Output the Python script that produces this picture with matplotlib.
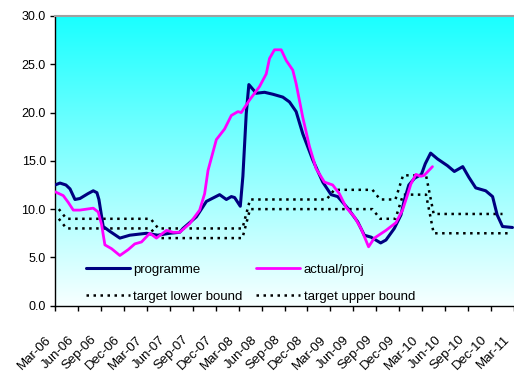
import numpy as np
import matplotlib
matplotlib.use("Agg")
import matplotlib.pyplot as plt
from matplotlib.transforms import ScaledTranslation

plt.rcParams["font.family"] = ["Liberation Sans", "DejaVu Sans"]

# Quarterly tick labels (months counted from Mar-06)
tick_labels = ["Mar-06", "Jun-06", "Sep-06", "Dec-06", "Mar-07", "Jun-07", "Sep-07",
               "Dec-07", "Mar-08", "Jun-08", "Sep-08", "Dec-08", "Mar-09", "Jun-09",
               "Sep-09", "Dec-09", "Mar-10", "Jun-10", "Sep-10", "Dec-10", "Mar-11"]

# Programme path (month offset, %)
prog_month = [0.0, 0.65, 1.43, 1.96, 2.61, 3.26, 4.30, 5.0, 5.48, 5.74, 6.30, 7.17,
              8.48, 9.78, 11.96, 13.43, 15.0, 16.30, 16.73, 18.48, 19.79, 21.52,
              22.40, 23.05, 23.48, 24.22, 24.56, 25.0, 25.34, 26.31, 27.39, 28.47,
              29.78, 30.65, 31.52, 32.39, 33.69, 35.0, 36.09, 36.95, 38.26, 39.56,
              40.43, 41.31, 42.57, 43.26, 44.35, 45.22, 45.65, 46.25, 47.0, 47.9,
              48.4, 49.1, 50.0, 51.3, 52.2, 53.3, 54.1, 55.0, 56.3, 57.2, 57.8,
              58.5, 59.8]
prog_value = [12.5, 12.7, 12.5, 12.1, 11.0, 11.1, 11.6, 11.9, 11.7, 11.0, 8.2, 7.7,
              7.0, 7.3, 7.5, 7.3, 7.5, 7.6, 8.0, 9.2, 10.8, 11.5,
              11.0, 11.3, 11.2, 10.3, 13.4, 19.9, 22.9, 22.0, 22.1, 21.9,
              21.6, 21.1, 20.1, 17.8, 15.1, 12.8, 11.5, 11.3, 10.1, 8.7,
              7.3, 7.1, 6.5, 6.8, 8.0, 9.4, 10.9, 12.5, 13.2, 13.6,
              14.7, 15.8, 15.2, 14.5, 13.9, 14.4, 13.3, 12.2, 11.9, 11.3, 9.4,
              8.2, 8.1]

# Actual / projected path (month offset, %)
act_month = [0.0, 1.08, 1.73, 2.39, 3.26, 5.0, 5.65, 6.09, 6.52, 7.40, 8.48, 9.56,
             10.43, 11.31, 12.39, 13.26, 14.57, 15.43, 16.30, 17.61, 18.91, 19.56,
             20.0, 21.09, 22.17, 23.05, 23.91, 24.35, 25.43, 26.74, 27.61, 28.04,
             28.69, 29.57, 30.22, 31.08, 31.52, 32.39, 33.26, 34.13, 35.22, 36.30,
             37.17, 38.04, 39.13, 40.0, 40.99, 41.74, 43.26, 44.57, 45.43, 46.09,
             46.52, 47.18, 47.83, 48.26, 49.34]
act_value = [11.8, 11.4, 10.7, 9.9, 9.9, 10.1, 9.7, 8.4, 6.3, 5.9, 5.2, 5.8,
             6.4, 6.6, 7.5, 7.0, 7.8, 7.6, 7.6, 8.5, 9.9, 11.6,
             14.0, 17.2, 18.3, 19.7, 20.1, 20.0, 21.3, 22.7, 24.0, 25.6,
             26.5, 26.5, 25.4, 24.4, 23.0, 19.5, 16.5, 14.2, 12.8, 12.5,
             11.6, 10.2, 9.2, 8.0, 6.1, 7.0, 7.8, 8.6, 9.9, 11.5,
             12.6, 13.6, 13.4, 13.5, 14.4]

# Monthly target bounds (first value is Mar-06)
upper_bound = [10] + [9] * 12 + [8] * 12 + [11] * 11 + [12] * 6 + [11] * 3 + [13.5] * 4 + [9.5] * 10
lower_bound = [9] + [8] * 12 + [7] * 12 + [10] * 17 + [9] * 3 + [11.5] * 4 + [7.5] * 11

fig = plt.figure(figsize=(5.14, 3.75), dpi=100)
ax = fig.add_axes([55 / 514, 1 - 305.7 / 375, 459 / 514, (305.7 - 16) / 375])

# Cyan-to-white background inside the plot area (row 0 = top of the axes)
grad = np.linspace(0, 1, 256)[:, None]
top = np.array([0.10, 1.0, 1.0])
bottom = np.array([0.97, 1.0, 1.0])
img = top[None, None, :] * (1 - grad[:, :, None]) + bottom[None, None, :] * grad[:, :, None]
ax.imshow(img, extent=[0, 60, 0, 30], origin="upper", aspect="auto", zorder=0,
          interpolation="bilinear")

# Bound series are plotted mid-month
ub_x = np.arange(len(upper_bound)) + 0.5
lb_x = np.arange(len(lower_bound)) + 0.5
dot = (0, (1, 1.8))

l1, = ax.plot(prog_month, prog_value, color="#000080", lw=2.2, zorder=4,
              solid_joinstyle="round", solid_capstyle="round")
l2, = ax.plot(act_month, act_value, color="#FF00FF", lw=2.0, zorder=5,
              solid_joinstyle="round", solid_capstyle="round")
l3, = ax.plot(lb_x, lower_bound, color="black", lw=1.8, ls=dot, zorder=3)
l4, = ax.plot(ub_x, upper_bound, color="black", lw=1.8, ls=dot, zorder=3)

ax.set_xlim(0, 60)
ax.set_ylim(0, 30)
ax.set_yticks(np.arange(0, 31, 5))
ax.set_yticklabels([f"{v:.1f}" for v in np.arange(0, 31, 5)])
ax.set_xticks(np.arange(0, 61, 3))
ax.set_xticklabels(tick_labels, rotation=45, ha="right", va="center",
                   rotation_mode="anchor")
ax.tick_params(axis="both", direction="out", length=3.6, width=1, colors="black",
               labelsize=9)
ax.tick_params(axis="x", pad=19.5, labelsize=9.5)
ax.tick_params(axis="y", pad=3)
shift = ScaledTranslation(-6 / 100, 0, fig.dpi_scale_trans)
for lbl in ax.get_xticklabels():
    lbl.set_transform(lbl.get_transform() + shift)

for side in ("left", "bottom"):
    ax.spines[side].set_color("black")
    ax.spines[side].set_linewidth(1)
ax.spines["top"].set_color("#A0A0A0")
ax.spines["top"].set_linewidth(1.5)
ax.spines["right"].set_visible(False)

# Legend filled column by column: left column solid/lower, right column actual/upper
leg = ax.legend([l1, l3, l2, l4],
                ["programme", "target lower bound", "actual/proj", "target upper bound"],
                ncol=2, loc="upper left", bbox_to_anchor=(0.0675, 0.146),
                frameon=False, fontsize=9.5, handlelength=3.3, handletextpad=0.3,
                columnspacing=1.0, labelspacing=1.15, borderpad=0, borderaxespad=0)

fig.savefig("out.png", dpi=100)
